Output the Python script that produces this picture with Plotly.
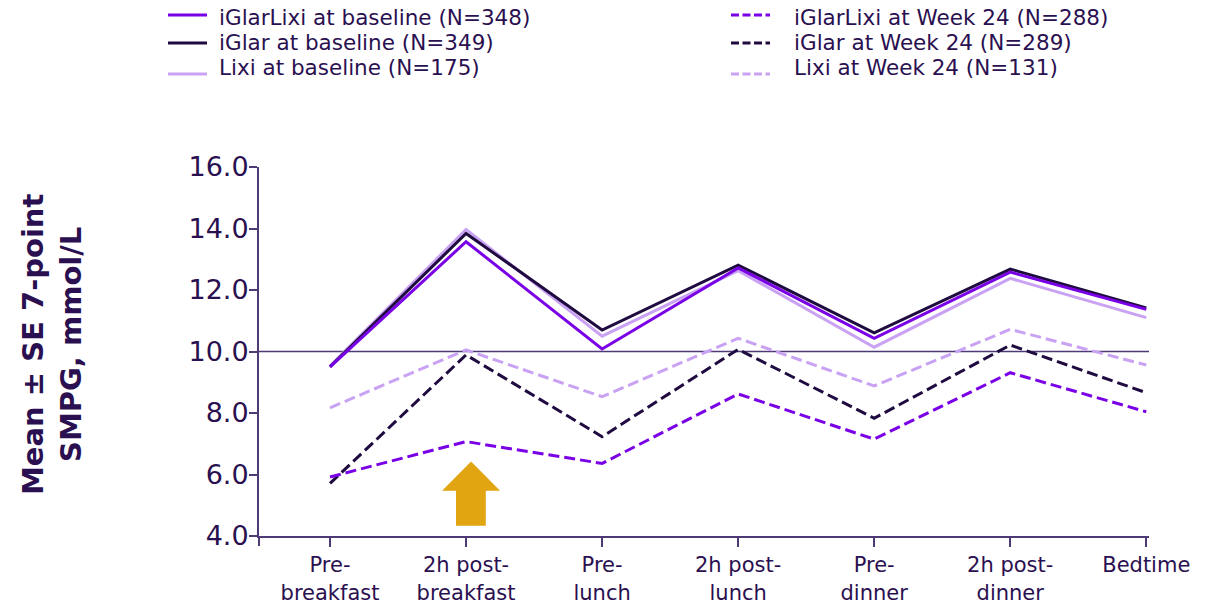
import plotly.graph_objects as go

# Time points of the 7-point self-measured plasma glucose profile
timepoints = ["Pre-<br>breakfast", "2h post-<br>breakfast", "Pre-<br>lunch",
              "2h post-<br>lunch", "Pre-<br>dinner", "2h post-<br>dinner", "Bedtime"]
x_pos = list(range(len(timepoints)))

# Mean SMPG (mmol/L) at baseline
iglarlixi_baseline = [9.50, 13.57, 10.08, 12.72, 10.43, 12.58, 11.37]
iglar_baseline = [9.50, 13.84, 10.70, 12.81, 10.61, 12.68, 11.42]
lixi_baseline = [9.53, 13.97, 10.50, 12.63, 10.14, 12.38, 11.10]

# Mean SMPG (mmol/L) at Week 24
iglarlixi_week24 = [5.92, 7.07, 6.36, 8.62, 7.15, 9.31, 8.04]
iglar_week24 = [5.71, 9.89, 7.23, 10.07, 7.83, 10.21, 8.66]
lixi_week24 = [8.17, 10.05, 8.53, 10.43, 8.88, 10.72, 9.56]

y_ticks = [4, 6, 8, 10, 12, 14, 16]

TEXT = "#2A1050"
AXIS = "#4E3A74"
C_IGLARLIXI = "#7A00E6"
C_IGLAR = "#1F0B40"
C_LIXI = "#C9A2F4"
FONT = "DejaVu Sans"

W, H = 1217, 603
M_L, M_R, M_T, M_B = 259, 68, 167, 67
PW, PH = W - M_L - M_R, H - M_T - M_B


def px_x(px):
    return (px - M_L) / PW


def px_y(py):
    return (H - M_B - py) / PH


fig = go.Figure()

baseline_series = [
    ("iGlarLixi at baseline (N=348)", iglarlixi_baseline, C_IGLARLIXI),
    ("iGlar at baseline (N=349)", iglar_baseline, C_IGLAR),
    ("Lixi at baseline (N=175)", lixi_baseline, C_LIXI),
]
week24_series = [
    ("iGlarLixi at Week 24 (N=288)", iglarlixi_week24, C_IGLARLIXI),
    ("iGlar at Week 24 (N=289)", iglar_week24, C_IGLAR),
    ("Lixi at Week 24 (N=131)", lixi_week24, C_LIXI),
]

# Draw lighter series first so darker ones sit on top
for name, vals, col in reversed(baseline_series):
    fig.add_trace(go.Scatter(x=x_pos, y=vals, mode="lines", name=name,
                             line=dict(color=col, width=3), showlegend=False))
for name, vals, col in reversed(week24_series):
    fig.add_trace(go.Scatter(x=x_pos, y=vals, mode="lines", name=name,
                             line=dict(color=col, width=3, dash="11px,5px"), showlegend=False))

# Two-column key above the plot: baseline (solid) left, Week 24 (dashed) right
key_rows_text = [17, 42, 67]
key_rows_line = [15, 43, 74]
for col_series, x_line, x_text, dash in [(baseline_series, 168, 217, None),
                                         (week24_series, 731, 792, "8px,3.5px")]:
    for (name, _, col), ty, ly in zip(col_series, key_rows_text, key_rows_line):
        fig.add_shape(type="line", xref="paper", yref="paper",
                      x0=px_x(x_line), x1=px_x(x_line + 39), y0=px_y(ly), y1=px_y(ly),
                      line=dict(color=col, width=3, dash=dash))
        fig.add_annotation(text=name, xref="paper", yref="paper",
                           x=px_x(x_text), y=px_y(ty), xanchor="left", yanchor="middle",
                           showarrow=False, font=dict(family=FONT, size=21.5, color=TEXT))

# Reference line at 10 mmol/L
fig.add_shape(type="line", xref="paper", yref="y", x0=0, x1=1, y0=10, y1=10,
              line=dict(color=AXIS, width=1.5), layer="below")
# Small axis overshoots at the origin corner
fig.add_shape(type="line", xref="paper", yref="paper", x0=0, x1=0, y0=px_y(546), y1=0,
              line=dict(color=AXIS, width=2))
fig.add_shape(type="line", xref="paper", yref="paper", x0=px_x(251), x1=0, y0=0, y1=0,
              line=dict(color=AXIS, width=2))

# Gold up-arrow under the post-breakfast time point
ax = 1.037
fig.add_shape(type="path", xref="x", yref="y",
              path=(f"M {ax - 0.111} 4.33 L {ax + 0.108} 4.33 L {ax + 0.108} 5.47 "
                    f"L {ax + 0.213} 5.47 L {ax} 6.42 L {ax - 0.213} 5.47 "
                    f"L {ax - 0.111} 5.47 Z"),
              fillcolor="#E0A511", line=dict(width=0))

fig.add_annotation(text="<b>Mean ± SE 7-point<br>SMPG, mmol/L</b>", textangle=-90,
                   xref="paper", yref="paper", x=px_x(52), y=px_y(344),
                   xanchor="center", yanchor="middle", showarrow=False,
                   font=dict(family=FONT, size=29, color=TEXT))

fig.update_layout(
    width=W, height=H,
    margin=dict(l=M_L, r=M_R, t=M_T, b=M_B, autoexpand=False),
    paper_bgcolor="white", plot_bgcolor="white",
    font=dict(family=FONT, color=TEXT),
    showlegend=False,
    xaxis=dict(range=[-0.522, 6.02], tickvals=x_pos, ticktext=timepoints, automargin=False,
               showgrid=False, zeroline=False, showline=True, linecolor=AXIS, linewidth=2,
               ticks="outside", ticklen=9, tickwidth=2, tickcolor=AXIS, tickangle=0,
               tickfont=dict(family=FONT, size=21, color=TEXT)),
    yaxis=dict(range=[4, 16], tickvals=y_ticks, tickformat=".1f", automargin=False,
               showgrid=False, zeroline=False, showline=True, linecolor=AXIS, linewidth=2,
               ticks="outside", ticklen=8, tickwidth=2, tickcolor=AXIS,
               ticklabelstandoff=-5,
               tickfont=dict(family=FONT, size=27, color=TEXT)),
)

fig.write_html("out.html")
